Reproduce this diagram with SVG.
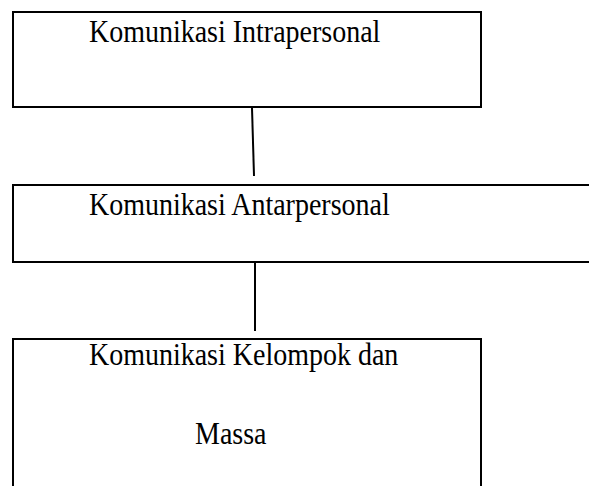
<svg xmlns="http://www.w3.org/2000/svg" width="589" height="486" viewBox="0 0 589 486">
<style>
.box{fill:#fff;stroke:#000;stroke-width:2}
.lbl{font-family:"Liberation Serif","Times New Roman",serif;font-size:32px;fill:#000}
.conn{stroke:#000;stroke-width:2;fill:none}
</style>
<rect width="589" height="486" fill="#fff"/>
<g id="connectors">
<line class="conn" x1="252" y1="108" x2="254" y2="176"/>
<line class="conn" x1="255" y1="263" x2="255" y2="331"/>
</g>
<g id="node1">
<rect class="box" x="13" y="12" width="468" height="95"/>
<text class="lbl" transform="scale(0.875 1)" x="101.7" y="42.5">Komunikasi Intrapersonal</text>
</g>
<g id="node2">
<rect class="box" x="13" y="185" width="600" height="77"/>
<text class="lbl" transform="scale(0.875 1)" x="101.7" y="215.5">Komunikasi Antarpersonal</text>
</g>
<g id="node3">
<rect class="box" x="13" y="339" width="468" height="170"/>
<text class="lbl" transform="scale(0.875 1)" x="101.7" y="365.5">Komunikasi Kelompok dan</text>
<text class="lbl" transform="scale(0.875 1)" x="222.9" y="444">Massa</text>
</g>
</svg>
